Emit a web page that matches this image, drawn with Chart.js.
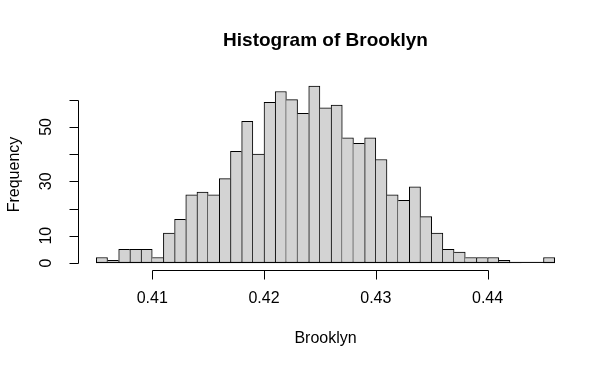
<!DOCTYPE html>
<html>
<head>
<meta charset="utf-8">
<script src="https://cdn.jsdelivr.net/npm/chart.js@4.4.0/dist/chart.umd.min.js"></script>
<style>
  body { margin: 0; background: #fff; }
  canvas { display: block; }
</style>
</head>
<body>
<canvas id="hist" width="613" height="368"></canvas>
<script>
// bin midpoints (bins are 0.001 wide, 0.405 .. 0.446)
const binMids = [
  0.4055, 0.4065, 0.4075, 0.4085, 0.4095, 0.4105, 0.4115, 0.4125, 0.4135, 0.4145,
  0.4155, 0.4165, 0.4175, 0.4185, 0.4195, 0.4205, 0.4215, 0.4225, 0.4235, 0.4245,
  0.4255, 0.4265, 0.4275, 0.4285, 0.4295, 0.4305, 0.4315, 0.4325, 0.4335, 0.4345,
  0.4355, 0.4365, 0.4375, 0.4385, 0.4395, 0.4405, 0.4415, 0.4425, 0.4435, 0.4445,
  0.4455
]
const counts = [
  2, 1, 5, 5, 5, 2, 11, 16, 25, 26,
  25, 31, 41, 52, 40, 59, 63, 60, 55, 65,
  57, 58, 46, 44, 46, 38, 25, 23, 28, 17,
  11, 5, 4, 2, 2, 2, 1, 0, 0, 0,
  2
]
const xTicks = [0.41, 0.42, 0.43, 0.44]
const xTickLabels = ['0.41', '0.42', '0.43', '0.44']
const yTicks = [0, 10, 20, 30, 40, 50, 60]
const yTickLabels = ['0', '10', '', '30', '', '50', '']

const FONT = '"Liberation Sans", Arial, sans-serif'

// R style axes, title and labels
const rAxes = {
  id: 'rAxes',
  afterDatasetsDraw(chart) {
    const c = chart.ctx, x = chart.scales.x, y = chart.scales.y
    const half = (binMids[1] - binMids[0]) / 2
    const y0 = y.getPixelForValue(0)
    c.save()
    c.strokeStyle = '#000'
    c.lineWidth = 1
    c.beginPath()
    c.moveTo(x.getPixelForValue(binMids[0] - half), y0 - 0.5)
    c.lineTo(x.getPixelForValue(binMids[binMids.length - 1] + half), y0 - 0.5)
    c.stroke()
    c.restore()
  },
  afterDraw(chart) {
    const c = chart.ctx, x = chart.scales.x, y = chart.scales.y, area = chart.chartArea
    c.save()
    c.strokeStyle = '#000'
    c.fillStyle = '#000'
    c.lineWidth = 1

    // x axis
    const ay = Math.round(area.bottom) + 0.5
    c.beginPath()
    c.moveTo(Math.round(x.getPixelForValue(xTicks[0])) + 0.5, ay)
    c.lineTo(Math.round(x.getPixelForValue(xTicks[xTicks.length - 1])) + 0.5, ay)
    xTicks.forEach(v => {
      const px = Math.round(x.getPixelForValue(v)) + 0.5
      c.moveTo(px, ay)
      c.lineTo(px, ay + 9)
    })
    // y axis
    const ax = Math.round(area.left) + 0.5
    c.moveTo(ax, Math.round(y.getPixelForValue(yTicks[0])) + 0.5)
    c.lineTo(ax, Math.round(y.getPixelForValue(yTicks[yTicks.length - 1])) + 0.5)
    yTicks.forEach(v => {
      const py = Math.round(y.getPixelForValue(v)) + 0.5
      c.moveTo(ax, py)
      c.lineTo(ax - 9, py)
    })
    c.stroke()

    c.font = '16px ' + FONT
    c.textAlign = 'center'
    c.textBaseline = 'middle'
    xTicks.forEach((v, i) => {
      c.fillText(xTickLabels[i], x.getPixelForValue(v), 299)
    })
    yTicks.forEach((v, i) => {
      if (!yTickLabels[i]) return
      c.save()
      c.translate(47, y.getPixelForValue(v))
      c.rotate(-Math.PI / 2)
      c.fillText(yTickLabels[i], 0, 0)
      c.restore()
    })

    const mid = (area.left + area.right) / 2
    c.fillText('Brooklyn', mid, 339)
    c.save()
    c.translate(15, (area.top + area.bottom) / 2)
    c.rotate(-Math.PI / 2)
    c.fillText('Frequency', 0, 0)
    c.restore()

    c.font = 'bold 19px ' + FONT
    c.fillText('Histogram of Brooklyn', mid, 41)
    c.restore()
  }
}

new Chart(document.getElementById('hist'), {
  type: 'bar',
  data: {
    datasets: [{
      data: binMids.map((m, i) => ({ x: m, y: counts[i] })),
      backgroundColor: '#d3d3d3',
      borderColor: '#000',
      borderSkipped: false,
      borderWidth: ctx => {
        const i = ctx.dataIndex
        const v = counts[i]
        const prev = i > 0 ? counts[i - 1] : -1
        const next = i < counts.length - 1 ? counts[i + 1] : -1
        return { top: 1, bottom: 1, left: prev <= v ? 1 : 0, right: next < v ? 1 : 0 }
      },
      barPercentage: 1,
      categoryPercentage: 1
    }]
  },
  options: {
    responsive: false,
    animation: false,
    layout: { padding: { left: 78, top: 79, right: 40, bottom: 98 } },
    plugins: { legend: { display: false }, tooltip: { enabled: false } },
    scales: {
      x: { type: 'linear', display: false, min: 0.40336, max: 0.44764, offset: false },
      y: { display: false, min: -2.6, max: 67.6 }
    }
  },
  plugins: [rAxes]
})
</script>
</body>
</html>
